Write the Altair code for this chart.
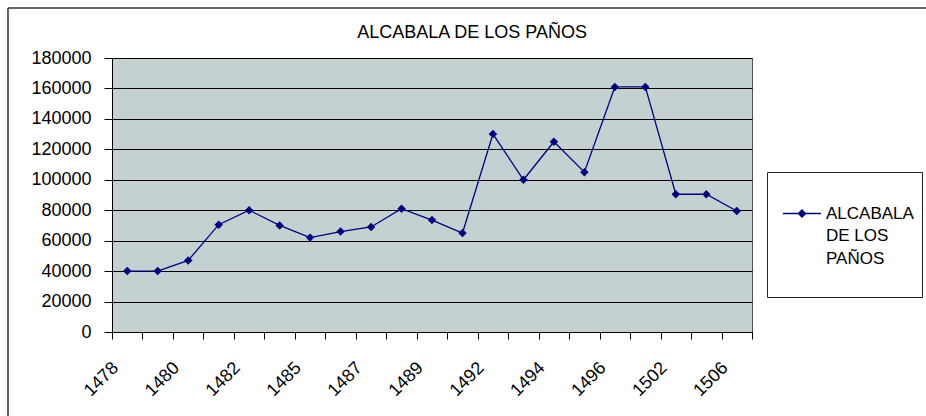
import altair as alt
import pandas as pd

years = ['1478', '1479', '1480', '1481', '1482', '1484', '1485', '1486', '1487', '1488', '1489',
         '1490', '1492', '1493', '1494', '1495', '1496', '1497', '1502', '1504', '1506']
values = [40000, 40000, 47000, 70500, 80000, 70000, 62000, 66000, 69000, 81000, 73500,
          65000, 130000, 100000, 125000, 105000, 161000, 161000, 90500, 90500, 79500]
shown_labels = ['1478', '1480', '1482', '1485', '1487', '1489', '1492', '1494', '1496', '1502', '1506']
y_ticks = [0, 20000, 40000, 60000, 80000, 100000, 120000, 140000, 160000, 180000]
series_name = 'ALCABALA DE LOS PAÑOS'
legend_lines = ['', 'ALCABALA', 'DE LOS', 'PAÑOS', '']
title_text = 'ALCABALA DE LOS PAÑOS'

df = pd.DataFrame({'year': years, 'value': values, 'series': [series_name] * len(years)})

FONT = 'Liberation Sans'
NAVY = '#000080'

label_expr = "indexof(" + str(shown_labels) + ", datum.label) >= 0 ? datum.label : ''"
legend_expr = str(legend_lines)

x = alt.X('year:O', sort=years,
          scale=alt.Scale(type='band', paddingInner=0, paddingOuter=0),
          axis=alt.Axis(title=None, labelAngle=-45, labelAlign='right', labelBaseline='middle',
                        tickBand='extent', labelExpr=label_expr, labelFont=FONT, labelFontSize=18,
                        labelColor='black', domainColor='black', tickColor='black', tickSize=7,
                        labelPadding=26, labelOffset=-12, grid=False, labelOverlap=False))
y = alt.Y('value:Q', scale=alt.Scale(domain=[0, 180000], nice=False),
          axis=alt.Axis(title=None, values=y_ticks, format='d', labelFont=FONT, labelFontSize=18,
                        labelColor='black', domainColor='black', tickColor='black', tickSize=8,
                        labelPadding=13, grid=True, gridColor='black', gridWidth=1, gridOpacity=1))
color = alt.Color('series:N', scale=alt.Scale(range=[NAVY]),
                  legend=alt.Legend(title=None, orient='none', legendX=655, legendY=114,
                                    padding=8, strokeColor='#222222', fillColor='white',
                                    labelExpr=legend_expr, labelFont=FONT, labelFontSize=17,
                                    labelColor='black', labelBaseline='middle', labelLimit=0,
                                    labelOffset=13, symbolOffset=16,
                                    symbolType='M-1.9,2.25H1.9M0,1.89L0.36,2.25L0,2.61L-0.36,2.25Z',
                                    symbolSize=400, symbolStrokeWidth=1.3,
                                    symbolStrokeColor=NAVY, symbolFillColor=NAVY))

line = alt.Chart(df).mark_line(
    strokeWidth=1.3,
    point=alt.OverlayMarkDef(shape='diamond', size=72, filled=True, color=NAVY, opacity=1)
).encode(x=x, y=y, color=color)

frame_top = alt.Chart(pd.DataFrame({'k': [0]})).mark_rule(color='#333333', strokeWidth=1.5).encode(
    x=alt.value(-104), x2=alt.value(820), y=alt.value(-50))
frame_left = alt.Chart(pd.DataFrame({'k': [0]})).mark_rule(color='#333333', strokeWidth=1.5).encode(
    x=alt.value(-104), y=alt.value(-50), y2=alt.value(360))

chart = alt.layer(line, frame_top, frame_left).properties(
    width=640, height=274,
    autosize=alt.AutoSizeParams(type='none'),
    padding={'left': 112, 'top': 58, 'right': 174, 'bottom': 84},
    background='white',
    title=alt.TitleParams(title_text, font=FONT, fontSize=18, fontWeight='normal', color='black',
                          anchor='middle', frame='group', dx=40, offset=0, dy=35),
).configure(
    style={'guide-label': {'lineHeight': 22.5}},
    view=alt.ViewConfig(fill='#C5D1D1', stroke='#555555', strokeWidth=1),
)

chart.save('out.html', embed_options={'renderer': 'svg', 'actions': False})
